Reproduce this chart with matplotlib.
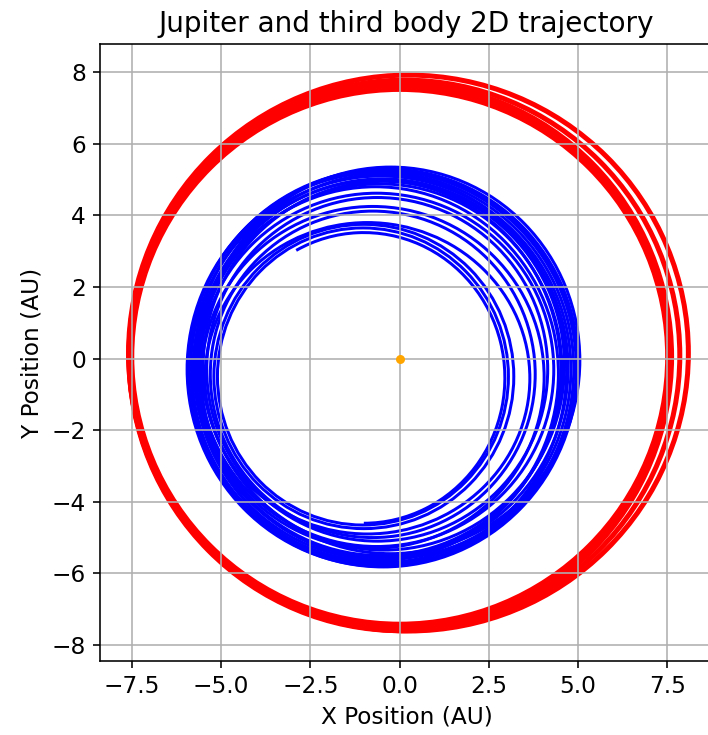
import numpy as np
import matplotlib
matplotlib.use('Agg')
import matplotlib.pyplot as plt
from matplotlib.patches import Ellipse, Arc
from matplotlib.ticker import MultipleLocator

# red orbit loops, extents (AU)
red_left = [-7.50, -7.53, -7.56, -7.58, -7.58, -7.59]
red_right = [7.51, 7.55, 7.59, 7.62, 7.85, 8.09]
red_bottom = [-7.42, -7.48, -7.54, -7.60, -7.60, -7.61]
red_top = [7.52, 7.58, 7.64, 7.70, 7.78, 7.92]

# blue orbit loops, outer (early) to inner (late)
blue_left = [-5.55, -5.75, -5.90, -5.90, -5.95, -5.85, -5.65, -5.70, -5.50,
             -5.75, -5.65, -5.80, -5.60, -5.40, -5.55, -5.30, -5.45, -5.20,
             -5.10, -4.95]
blue_right = [5.05, 5.00, 4.98, 4.95, 4.88, 4.80, 4.68, 4.72, 4.62, 4.52,
              4.55, 4.45, 4.32, 4.15, 4.05, 3.80, 3.65, 3.20, 3.05, 2.95]
blue_bottom = [-5.45, -5.60, -5.82, -5.75, -5.80, -5.70, -5.78, -5.55, -5.35,
               -5.60, -5.50, -5.65, -5.25, -5.10, -5.30, -5.00, -4.90, -4.75,
               -4.65, -4.60]
blue_top = [5.35, 5.30, 5.28, 5.25, 5.20, 5.10, 5.15, 5.02, 4.95, 4.98,
            4.88, 4.80, 4.62, 4.50, 4.25, 4.12, 3.80, 3.75, 3.65, 3.52]
# last loop is unfinished: polar angles of the drawn part (deg)
blue_last_arc = [-90, 118]

sun_x = [0.0]
sun_y = [0.0]

plt.rcParams['font.size'] = 11.6

fig = plt.figure(figsize=(708 / 144, 735 / 144), dpi=144)
ax = fig.add_axes([100 / 708, 1 - 660.7 / 735, 613 / 708, 616.4 / 735])

for l, r, b, t in zip(red_left, red_right, red_bottom, red_top):
    ax.add_patch(Ellipse(((l + r) / 2, (b + t) / 2), r - l, t - b,
                         fill=False, color='red', lw=2.5))

n = len(blue_left)
for i, (l, r, b, t) in enumerate(zip(blue_left, blue_right, blue_bottom, blue_top)):
    c = ((l + r) / 2, (b + t) / 2)
    if i < n - 1:
        ax.add_patch(Ellipse(c, r - l, t - b, fill=False, color='blue', lw=1.5))
    else:
        ax.add_patch(Arc(c, r - l, t - b, theta1=blue_last_arc[0],
                         theta2=blue_last_arc[1], color='blue', lw=1.5))

ax.plot(sun_x, sun_y, 'o', color='orange', markersize=3.5)

ax.set_xlim(-8.39, 8.78)
ax.set_ylim(-8.44, 8.78)
ax.xaxis.set_major_locator(MultipleLocator(2.5))
ax.yaxis.set_major_locator(MultipleLocator(2))
ax.set_title('Jupiter and third body 2D trajectory')
ax.set_xlabel('X Position (AU)')
ax.set_ylabel('Y Position (AU)')
ax.grid(True)

fig.savefig('out.png', dpi=144)
